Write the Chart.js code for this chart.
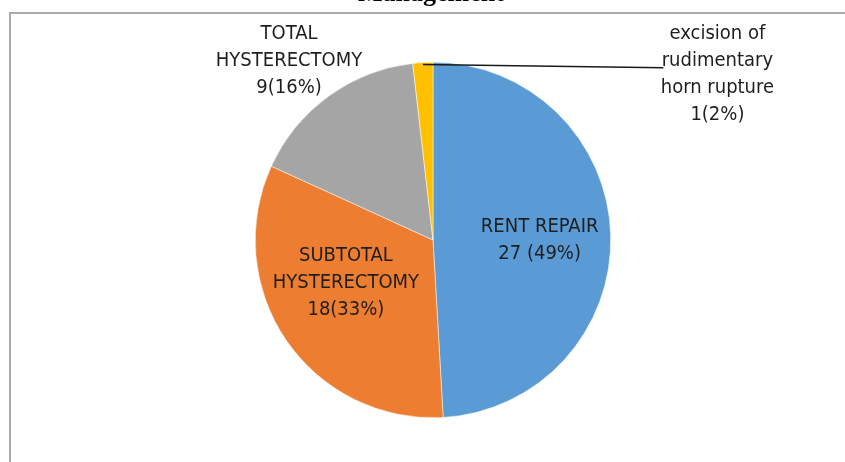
<!DOCTYPE html>
<html>
<head>
<meta charset="utf-8">
<script src="https://cdn.jsdelivr.net/npm/chart.js@4.4.0/dist/chart.umd.min.js"></script>
<style>
    html, body { margin: 0; padding: 0; background: #fff; }
    #wrap { position: relative; width: 845px; height: 462px; overflow: hidden; }
</style>
</head>
<body>
<div id="wrap"><canvas id="pieChart" width="845" height="462"></canvas></div>
<script>
// Data
const categories = ['RENT REPAIR', 'SUBTOTAL HYSTERECTOMY', 'TOTAL HYSTERECTOMY', 'excision of rudimentary horn rupture'];
const counts = [27, 18, 9, 1];
const percents = [49, 33, 16, 2];
const labelLines = [
    ['RENT REPAIR', '27 (49%)'],
    ['SUBTOTAL', 'HYSTERECTOMY', '18(33%)'],
    ['TOTAL', 'HYSTERECTOMY', '9(16%)'],
    ['excision of', 'rudimentary', 'horn rupture', '1(2%)']
];
const sliceColors = ['#5b9bd5', '#ed7d31', '#a5a5a5', '#ffc000'];

// label centres, relative to pie centre in units of radius
const labelOffsets = [[0.60, 0.0], [-0.49, 0.24], [-0.81, -1.01], [1.60, -0.935]];
const labelFont = '20px "Liberation Sans Narrow", "DejaVu Sans Condensed", sans-serif';
const lineGap = 27;

const decorPlugin = {
    id: 'decor',
    beforeDraw(chart) {
        const ctx = chart.ctx;
        ctx.save();
        // frame
        ctx.strokeStyle = '#ababab';
        ctx.lineWidth = 2;
        ctx.beginPath();
        ctx.moveTo(10, 470);
        ctx.lineTo(10, 13);
        ctx.lineTo(850, 13);
        ctx.stroke();
        // title (cut off at top)
        ctx.fillStyle = '#000';
        ctx.font = 'bold 26px "Liberation Serif", "Times New Roman", serif';
        ctx.textAlign = 'center';
        ctx.textBaseline = 'alphabetic';
        ctx.fillText('Management', 431, 1);
        ctx.restore();
    },
    afterDatasetsDraw(chart) {
        const ctx = chart.ctx;
        const arcs = chart.getDatasetMeta(0).data;
        const cx = arcs[0].x, cy = arcs[0].y, r = arcs[0].outerRadius;
        ctx.save();
        // leader line for the small slice
        const a = arcs[3];
        const mid = (a.startAngle + a.endAngle) / 2;
        const off = labelOffsets[3];
        ctx.strokeStyle = '#1a1a1a';
        ctx.lineWidth = 1.5;
        ctx.beginPath();
        ctx.moveTo(cx + Math.cos(mid) * (r - 2), cy + Math.sin(mid) * (r - 2));
        ctx.lineTo(cx + off[0] * r - 54, cy + off[1] * r - 6);
        ctx.stroke();

        ctx.font = labelFont;
        ctx.fillStyle = '#1e1e1e';
        ctx.textAlign = 'center';
        ctx.textBaseline = 'middle';
        labelLines.forEach((lines, i) => {
            const lx = cx + labelOffsets[i][0] * r;
            const ly = cy + labelOffsets[i][1] * r;
            const top = ly - (lines.length - 1) * lineGap / 2;
            lines.forEach((t, j) => ctx.fillText(t, lx, top + j * lineGap));
        });
        ctx.restore();
    }
};

new Chart(document.getElementById('pieChart'), {
    type: 'pie',
    data: {
        labels: categories,
        datasets: [{
            data: counts,
            backgroundColor: sliceColors,
            borderColor: '#ffffff',
            borderWidth: 0.5
        }]
    },
    options: {
        responsive: false,
        animation: false,
        layout: { padding: { top: 62, bottom: 44, left: 21, right: 0 } },
        plugins: {
            legend: { display: false },
            tooltip: { enabled: false }
        }
    },
    plugins: [decorPlugin]
});
</script>
</body>
</html>
